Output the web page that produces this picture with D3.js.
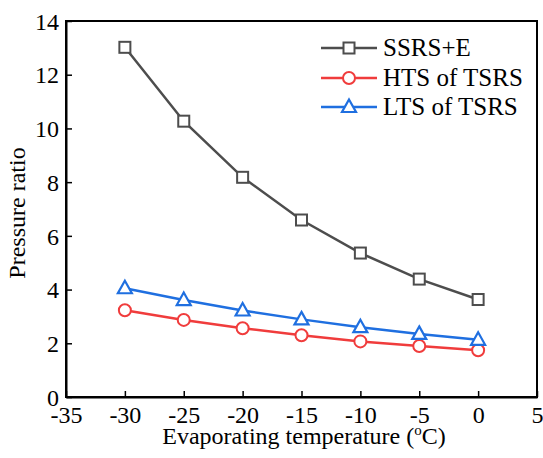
<!DOCTYPE html>
<html><head><meta charset="utf-8">
<script src="https://cdn.jsdelivr.net/npm/d3@7"></script>
</head><body style="margin:0">
<svg id="c" width="543" height="458"></svg>
<script>
const temps = [-30, -25, -20, -15, -10, -5, 0];
const ssrs = [13.02, 10.27, 8.18, 6.59, 5.36, 4.39, 3.63];
const hts = [3.23, 2.87, 2.56, 2.30, 2.07, 1.90, 1.74];
const lts = [4.05, 3.61, 3.22, 2.89, 2.60, 2.35, 2.13];
const xTicks = [-35, -30, -25, -20, -15, -10, -5, 0, 5];
const yTicks = [0, 2, 4, 6, 8, 10, 12, 14];
const seriesNames = ["SSRS+E", "HTS of TSRS", "LTS of TSRS"];
const colors = ["#4d4d4d", "#f03c3c", "#1f6fe0"];
const shapes = ["square", "circle", "triangle"];

const svg = d3.select("#c");
const L = 66, R = 537, T = 21, B = 397;
const x = d3.scaleLinear().domain([-35, 5]).range([L, R]);
const y = d3.scaleLinear().domain([0, 14]).range([B, T]);
const FF = "Liberation Serif";

function txt(sel, size) {
  return sel.attr("font-family", FF).attr("font-size", size)
    .style("font-family", "'Liberation Serif', 'Times New Roman', serif")
    .style("font-size", size + "px").attr("fill", "#000");
}

svg.append("rect").attr("x", L).attr("y", T).attr("width", R - L).attr("height", B - T)
  .attr("fill", "none").attr("stroke", "#000").attr("stroke-width", 2);

const fmt = d => String(d);
const xa = svg.append("g").attr("transform", `translate(0,${B})`)
  .call(d3.axisBottom(x).tickValues(xTicks).tickFormat(fmt).tickSizeInner(-6).tickSizeOuter(0));
const ya = svg.append("g").attr("transform", `translate(${L},0)`)
  .call(d3.axisLeft(y).tickValues(yTicks).tickFormat(fmt).tickSizeInner(-6).tickSizeOuter(0));
[xa, ya].forEach(a => {
  a.attr("font-family", FF).attr("font-size", 24);
  a.select(".domain").attr("stroke", "#000").attr("stroke-width", 2);
  a.selectAll(".tick line").attr("stroke", "#000").attr("stroke-width", 1.5);
  txt(a.selectAll(".tick text"), 24);
});
xa.selectAll(".tick text").attr("y", 26).attr("dy", 0);
ya.selectAll(".tick text").attr("x", -7).attr("dy", "0.34em");

function marker(g, shape, color, cx, cy) {
  if (shape === "square") {
    g.append("rect").attr("x", cx - 5.5).attr("y", cy - 5.5).attr("width", 11).attr("height", 11)
      .attr("fill", "#fff").attr("stroke", color).attr("stroke-width", 2);
  } else if (shape === "circle") {
    g.append("circle").attr("cx", cx).attr("cy", cy).attr("r", 6)
      .attr("fill", "#fff").attr("stroke", color).attr("stroke-width", 2);
  } else {
    g.append("path").attr("d", `M${cx},${cy - 7.5}L${cx + 7},${cy + 5}L${cx - 7},${cy + 5}Z`)
      .attr("fill", "#fff").attr("stroke", color).attr("stroke-width", 2.2);
  }
}

[ssrs, hts, lts].forEach((vals, i) => {
  const g = svg.append("g");
  const line = d3.line().x((d, j) => x(temps[j])).y(d => y(d));
  g.append("path").datum(vals).attr("d", line).attr("fill", "none")
    .attr("stroke", colors[i]).attr("stroke-width", 2.5);
  vals.forEach((v, j) => marker(g, shapes[i], colors[i], x(temps[j]), y(v)));
});

const legY = [48, 78, 107];
seriesNames.forEach((n, i) => {
  const g = svg.append("g");
  g.append("line").attr("x1", 321).attr("x2", 377).attr("y1", legY[i]).attr("y2", legY[i])
    .attr("stroke", colors[i]).attr("stroke-width", 2.5);
  marker(g, shapes[i], colors[i], 349, legY[i]);
  txt(g.append("text"), 25).attr("x", 383).attr("y", legY[i] + 8).text(n);
});

txt(svg.append("text"), 24).attr("transform", `translate(25,213) rotate(-90)`)
  .attr("text-anchor", "middle").text("Pressure ratio");
const xt = txt(svg.append("text"), 24).attr("x", 304).attr("y", 444).attr("text-anchor", "middle");
xt.append("tspan").text("Evaporating temperature  (");
xt.append("tspan").attr("dy", "-9").attr("font-size", 15).style("font-size", "15px").text("o");
xt.append("tspan").attr("dy", "9").text("C)");
</script>
</body></html>
